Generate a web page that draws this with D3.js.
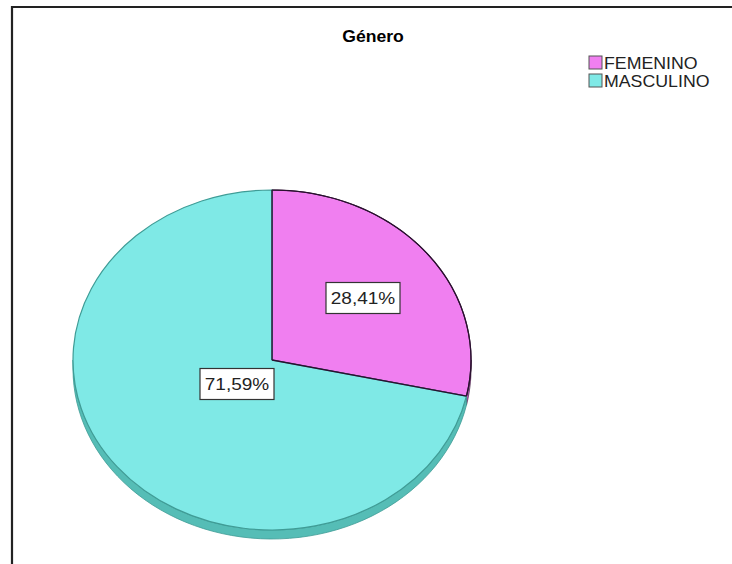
<!DOCTYPE html>
<html>
<head>
<meta charset="utf-8">
<script src="https://cdn.jsdelivr.net/npm/d3@7"></script>
<style>
  body { margin: 0; background: #fff; }
  svg { display: block; font-family: "Liberation Sans", Arial, sans-serif; }
</style>
</head>
<body>
<svg id="chart" width="732" height="564"></svg>
<script>
// Data
const categories = ["FEMENINO", "MASCULINO"];
const percents = [28.41, 71.59];
const labels = ["28,41%", "71,59%"];
const title = "Género";

const topColors = ["#f07ff0", "#7fe9e6"];
const sideColors = ["#c85cc8", "#55bdb6"];
const edgeColors = ["#3a1a3a", "#3f9c96"];

const svg = d3.select("#chart");

// frame
svg.append("path")
	.attr("d", "M12,564 L12,7 L732,7")
	.attr("fill", "none")
	.attr("stroke", "#222")
	.attr("stroke-width", 2.2);

// title
svg.append("text")
	.attr("transform", "translate(373,42) scale(1.1,1)")
	.attr("text-anchor", "middle")
	.style("font-size", "16px")
	.style("font-weight", "bold")
	.text(title);

// legend
const legend = svg.append("g").attr("transform", "translate(589,56)");
categories.forEach((c, i) => {
	legend.append("rect")
		.attr("x", 0).attr("y", i * 18)
		.attr("width", 13).attr("height", 13)
		.attr("fill", topColors[i])
		.attr("stroke", "#555").attr("stroke-width", 1);
	legend.append("text")
		.attr("transform", `translate(15,${i * 18 + 13}) scale(1.11,1)`)
		.style("font-size", "16px")
		.attr("fill", "#222")
		.text(c);
});

// pie geometry
const cx = 272, cy = 360, rx = 199, ry = 170, depth = 9;
const pie = d3.pie().sort(null).value(d => d);
const arcs = pie(percents);

const pt = (a, dy) => [cx + rx * Math.sin(a), cy - ry * Math.cos(a) + dy];

// side walls (only the front half, angles between PI/2 and 3PI/2)
arcs.forEach((a, i) => {
	const a0 = Math.max(a.startAngle, Math.PI / 2);
	const a1 = Math.min(a.endAngle, 3 * Math.PI / 2);
	if (a1 <= a0) return;
	const n = 60;
	const top = d3.range(n + 1).map(k => pt(a0 + (a1 - a0) * k / n, 0));
	const bot = d3.range(n + 1).map(k => pt(a1 - (a1 - a0) * k / n, depth));
	svg.append("path")
		.attr("d", d3.line()(top.concat(bot)) + "Z")
		.attr("fill", sideColors[i])
		.attr("stroke", edgeColors[i])
		.attr("stroke-width", 0.8);
});

// top faces
const arc = d3.arc().innerRadius(0).outerRadius(rx);
const face = svg.append("g")
	.attr("transform", `translate(${cx},${cy}) scale(1,${ry / rx})`);
face.selectAll("path.slice")
	.data(arcs)
	.enter().append("path")
	.attr("class", "slice")
	.attr("d", arc)
	.attr("fill", (d, i) => topColors[i])
	.attr("stroke", (d, i) => edgeColors[i])
	.attr("stroke-width", 1.2)
	.attr("vector-effect", "non-scaling-stroke");

// dark radial lines between slices
arcs.forEach(a => {
	const p = pt(a.startAngle, 0);
	svg.append("line")
		.attr("x1", cx).attr("y1", cy)
		.attr("x2", p[0]).attr("y2", p[1])
		.attr("stroke", "#2a1030").attr("stroke-width", 1.3);
});
// pink outer edge darker
const pinkEdge = d3.range(61).map(k => pt(arcs[0].startAngle + (arcs[0].endAngle - arcs[0].startAngle) * k / 60, 0));
svg.append("path")
	.attr("d", d3.line()(pinkEdge))
	.attr("fill", "none")
	.attr("stroke", "#2a1030").attr("stroke-width", 1.2);

// value labels
const labelPos = [[363, 298], [237, 384]];
arcs.forEach((a, i) => {
	const g = svg.append("g").attr("transform", `translate(${labelPos[i][0]},${labelPos[i][1]})`);
	const w = 74, h = 31;
	g.append("rect")
		.attr("x", -w / 2).attr("y", -h / 2)
		.attr("width", w).attr("height", h)
		.attr("fill", "#fff")
		.attr("stroke", "#333").attr("stroke-width", 1.2);
	g.append("text")
		.attr("transform", "scale(1.12,1)")
		.attr("text-anchor", "middle")
		.attr("dy", "0.36em")
		.style("font-size", "17px")
		.attr("fill", "#222")
		.text(labels[i]);
});
</script>
</body>
</html>
